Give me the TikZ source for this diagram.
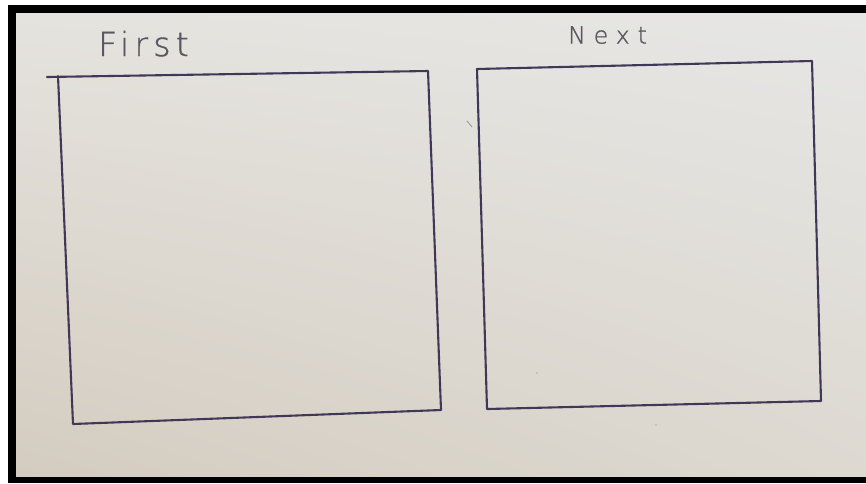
\documentclass[tikz,border=0pt]{standalone}
\usepackage{fontspec}
\usetikzlibrary{shadings}
\setmainfont{DejaVu Sans}
\newfontfamily\handfont[LetterSpace=16,FakeBold=1.2]{DejaVu Sans ExtraLight}
\newfontfamily\handfontwide[LetterSpace=34,FakeBold=1.2]{DejaVu Sans ExtraLight}
\definecolor{ink}{RGB}{64,56,86}
\definecolor{pencil}{RGB}{88,88,96}
\definecolor{paperTL}{RGB}{229,227,222}
\definecolor{paperTR}{RGB}{230,230,229}
\definecolor{paperBL}{RGB}{212,204,192}
\definecolor{paperBR}{RGB}{221,217,209}
\tikzset{
  pen/.style={line width=2.1pt, draw=ink, line cap=round, line join=round},
  hand/.style={text=pencil, inner sep=0pt, anchor=base west},
  smudge/.style={line width=0.9pt, draw=pencil!60, line cap=round}
}
\begin{document}
\begin{tikzpicture}[x=1pt,y=-1pt]
\useasboundingbox (0,0) rectangle (866,483);
\fill[white] (0,0) rectangle (866,483);
\fill[black] (8,5) rectangle (866,483);
\shade[upper left=paperTL, upper right=paperTR, lower left=paperBL, lower right=paperBR]
  (16,13) rectangle (866,476);
% left square
\coordinate (a1) at (47,77);
\coordinate (a2) at (58,76);
\coordinate (a3) at (428,71);
\coordinate (a4) at (441,410);
\coordinate (a5) at (73,424);
\draw[pen] (a1) -- (a3) -- (a4) -- (a5) -- (a2);
% right square
\coordinate (b1) at (477,69);
\coordinate (b2) at (812,61);
\coordinate (b3) at (821,401);
\coordinate (b4) at (487,409);
\draw[pen] (b1) -- (b2) -- (b3) -- (b4) -- cycle;
% labels
\node[hand, font=\handfont\fontsize{33}{33}\selectfont] (first) at (98,56) {First};
\node[hand, font=\handfontwide\fontsize{23.5}{23.5}\selectfont] (next) at (568,43.5) {Next};
% small stray marks
\coordinate (m1) at (467,121);
\coordinate (m2) at (472,127);
\draw[smudge] (m1) -- (m2);
\fill[pencil!50] (537,373) circle (0.9);
\fill[pencil!50] (656,425) circle (0.9);
\end{tikzpicture}
\end{document}
